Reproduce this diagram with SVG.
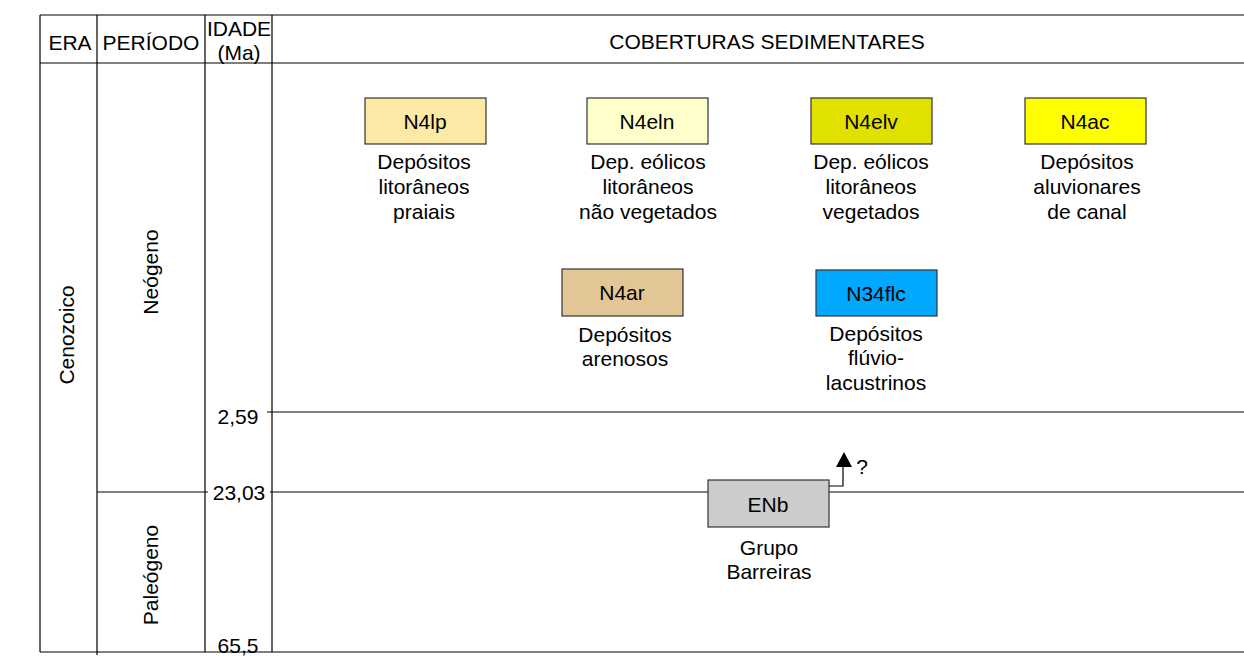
<svg xmlns="http://www.w3.org/2000/svg" width="1244" height="662" viewBox="0 0 1244 662">
<style>
text{font-family:"Liberation Sans",Arial,sans-serif;font-size:21px;fill:#000;text-anchor:middle}
.ln{stroke:#000;stroke-width:1.2;fill:none}
.box{stroke:#333;stroke-width:1.2}
</style>
<rect width="1244" height="662" fill="#fff"/>
<g id="frame">
<line class="ln" x1="40" y1="15" x2="1244" y2="15"/>
<line class="ln" x1="40" y1="63" x2="1244" y2="63"/>
<line class="ln" x1="40" y1="652" x2="1244" y2="652"/>
<line class="ln" x1="40" y1="15" x2="40" y2="652"/>
<line class="ln" x1="97" y1="15" x2="97" y2="655"/>
<line class="ln" x1="205" y1="15" x2="205" y2="652"/>
<line class="ln" x1="272" y1="15" x2="272" y2="652"/>
<line class="ln" x1="267" y1="412" x2="1244" y2="412"/>
<line class="ln" x1="97" y1="492" x2="208" y2="492"/>
<line class="ln" x1="270" y1="492" x2="1244" y2="492"/>
</g>
<g id="header">
<text x="70" y="50">ERA</text>
<text x="151" y="50">PERÍODO</text>
<text x="239" y="36">IDADE</text>
<text x="239" y="60">(Ma)</text>
<text x="767" y="49">COBERTURAS SEDIMENTARES</text>
</g>
<g id="periods">
<text transform="translate(74,335) rotate(-90)">Cenozoico</text>
<text transform="translate(158,272) rotate(-90)">Neógeno</text>
<text transform="translate(158,575) rotate(-90)">Paleógeno</text>
</g>
<g id="ages">
<text x="238" y="424">2,59</text>
<text x="239" y="500">23,03</text>
<text x="238" y="653">65,5</text>
</g>
<g id="N4lp">
<rect class="box" x="365" y="98" width="121" height="46" fill="#fde9a6"/>
<text x="425" y="129">N4lp</text>
<text x="424" y="169">Depósitos</text>
<text x="424" y="194">litorâneos</text>
<text x="424" y="219">praiais</text>
</g>
<g id="N4eln">
<rect class="box" x="587" y="98" width="121" height="46" fill="#ffffcc"/>
<text x="647" y="129">N4eln</text>
<text x="648" y="169">Dep. eólicos</text>
<text x="648" y="194">litorâneos</text>
<text x="648" y="219">não vegetados</text>
</g>
<g id="N4elv">
<rect class="box" x="811" y="98" width="121" height="46" fill="#e1e100"/>
<text x="871" y="129">N4elv</text>
<text x="871" y="169">Dep. eólicos</text>
<text x="871" y="194">litorâneos</text>
<text x="871" y="219">vegetados</text>
</g>
<g id="N4ac">
<rect class="box" x="1025" y="98" width="121" height="46" fill="#ffff00"/>
<text x="1085" y="129">N4ac</text>
<text x="1087" y="169">Depósitos</text>
<text x="1087" y="194">aluvionares</text>
<text x="1087" y="219">de canal</text>
</g>
<g id="N4ar">
<rect class="box" x="562" y="269" width="121" height="47" fill="#e2c695"/>
<text x="622" y="300">N4ar</text>
<text x="625" y="342">Depósitos</text>
<text x="625" y="366">arenosos</text>
</g>
<g id="N34flc">
<rect class="box" x="816" y="270" width="121" height="46" fill="#00a8ff"/>
<text x="876" y="301">N34flc</text>
<text x="876" y="341">Depósitos</text>
<text x="876" y="365">flúvio-</text>
<text x="876" y="390">lacustrinos</text>
</g>
<g id="ENb">
<rect class="box" x="708" y="480" width="121" height="47" fill="#cccccc"/>
<text x="768" y="512">ENb</text>
<text x="769" y="555">Grupo</text>
<text x="769" y="579">Barreiras</text>
</g>
<g id="connectors">
<polyline class="ln" points="829,486 843,486 843,465"/>
<polygon points="844,452 836,467 852,467" fill="#000"/>
<text x="862" y="474">?</text>
</g>
</svg>
